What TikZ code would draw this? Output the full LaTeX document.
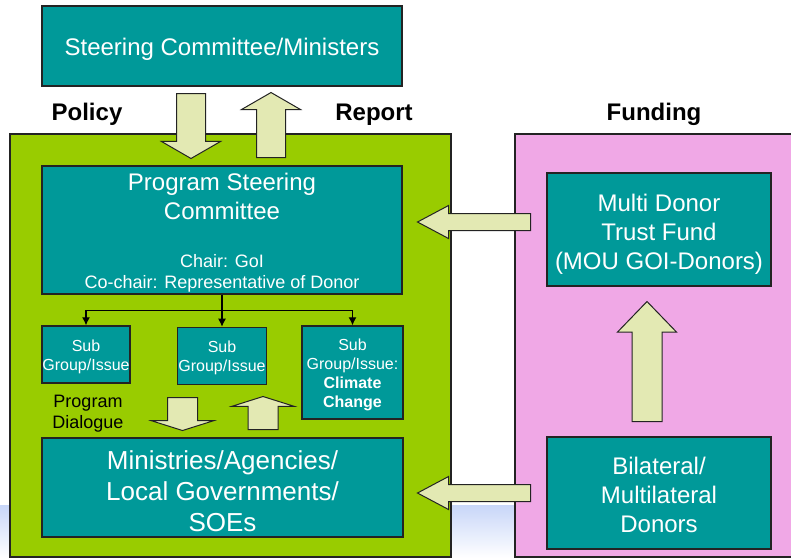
\documentclass[tikz,border=0pt]{standalone}
\usepackage{fontspec}
\setmainfont{Liberation Sans}
\usetikzlibrary{arrows.meta,shapes.arrows,positioning}

\definecolor{boxteal}{RGB}{0,153,153}
\definecolor{panelgreen}{RGB}{153,204,0}
\definecolor{panelpink}{RGB}{240,168,230}
\definecolor{arrowfill}{RGB}{227,233,179}
\definecolor{outline}{RGB}{35,35,35}
\definecolor{bandblue}{RGB}{200,214,248}

\tikzset{
  box/.style={draw=outline, line width=1.4pt, fill=boxteal, inner sep=0pt},
  boxtext/.style={text=white, align=center, inner sep=0pt},
  panel/.style={draw=outline, line width=1.4pt},
  fat/.style={single arrow, draw=outline, fill=arrowfill, line width=1pt,
              inner sep=0pt, text depth=0pt, minimum width=0pt, anchor=tail},
  heading/.style={font=\bfseries\fontsize{24}{29}\selectfont, anchor=base},
  large/.style={font=\fontsize{24}{29}\selectfont},
  small/.style={font=\fontsize{16}{19}\selectfont},
}

\begin{document}
\begin{tikzpicture}[x=1pt, y=-1pt, >={Latex[length=8pt,width=8pt]}]
  \useasboundingbox (0,0) rectangle (791,558);
  \shade[top color=bandblue, bottom color=white] (0,505) rectangle (791,558);

  % panels
  \draw[panel, fill=panelgreen] (10,134) rectangle (451,557);
  \draw[panel, fill=panelpink]  (515,134) rectangle (800,557);

  \node[heading] (policy)  at (87,120)  {Policy};
  \node[heading] (report)  at (374,120) {Report};
  \node[heading] (funding) at (654,120) {Funding};

  % boxes
  \node[box, minimum width=360pt, minimum height=80pt] (ministers) at (222,46) {};
  \node[boxtext, large, yshift=-3pt] (ministerstext) at (ministers) {Steering Committee/Ministers};

  \node[box, minimum width=360pt, minimum height=128pt] (psc) at (222,230) {};
  \node[boxtext, large, below=8pt of psc.north] (psctitle) {Program Steering\\Committee};
  \node[boxtext, font=\fontsize{18}{21}\selectfont, above=2pt of psc.south] (pscchair)
       {Chair: GoI\\Co-chair: Representative of Donor};

  \node[box, minimum width=88pt, minimum height=57pt] (sub1) at (86,354.5) {};
  \node[box, minimum width=89pt, minimum height=57pt] (sub2) [below=32pt of psc] {};
  \node[box, minimum width=101pt, minimum height=93pt] (sub3) at (352.5,372.5) {};
  \node[boxtext, small, yshift=-2pt] (sub1text) at (sub1) {Sub\\Group/Issue};
  \node[boxtext, small, yshift=-2pt] (sub2text) at (sub2) {Sub\\Group/Issue};
  \node[boxtext, small, yshift=-2pt] (sub3text) at (sub3)
       {Sub\\Group/Issue:\\\textbf{Climate}\\\textbf{Change}};

  \node[font=\fontsize{18}{21}\selectfont, align=center] (dialogue) at (88,413.5)
       {Program\\Dialogue};

  \node[box, minimum width=361pt, minimum height=99pt] (agencies) at (222.5,487.5) {};
  \node[boxtext, font=\fontsize{26}{31}\selectfont, yshift=-4pt] (agenciestext) at (agencies)
       {Ministries/Agencies/\\Local Governments/\\SOEs};

  \node[box, minimum width=224pt, minimum height=113pt] (trustfund) at (659,229.5) {};
  \node[boxtext, large, yshift=-4.5pt] (trustfundtext) at (trustfund)
       {Multi Donor\\Trust Fund\\(MOU GOI-Donors)};
  \node[box, minimum width=224pt, minimum height=112pt] (donors) at (659,493) {};
  \node[boxtext, large, yshift=-2pt] (donorstext) at (donors)
       {Bilateral/\\Multilateral\\Donors};

  % tree
  \draw[line width=1.2pt] (psc.south) -- ++(0,16) coordinate (fork);
  \draw[->, line width=1.2pt] (fork) -| (sub1.north);
  \draw[->, line width=1.2pt] (fork) -- (sub2.north);
  \draw[->, line width=1.2pt] (fork) -| (sub3.north);

  % block arrows
  \node[fat, rotate=-90, minimum height=65pt, text height=28pt,
        single arrow head extend=15pt, single arrow tip angle=120] (policydown) at (191,93) {};
  \node[fat, rotate=90, minimum height=65pt, text height=28pt,
        single arrow head extend=15pt, single arrow tip angle=120] (reportup) at (271,158) {};
  \node[fat, rotate=-90, minimum height=33pt, text height=29pt,
        single arrow head extend=16pt, single arrow tip angle=145] (dialoguedown) at (182.5,397) {};
  \node[fat, rotate=90, minimum height=33pt, text height=29pt,
        single arrow head extend=16pt, single arrow tip angle=145] (dialogueup) at (263,430) {};
  \node[fat, rotate=180, minimum height=113pt, text height=16pt,
        single arrow head extend=8pt, single arrow tip angle=56] (fundtop) at (531,222) {};
  \node[fat, rotate=180, minimum height=113pt, text height=16pt,
        single arrow head extend=8pt, single arrow tip angle=56] (fundbottom) at (531,493) {};
  \node[fat, rotate=90, minimum height=120pt, text height=29pt,
        single arrow head extend=14.5pt, single arrow tip angle=88] (fundup) at (647,422) {};
\end{tikzpicture}
\end{document}
